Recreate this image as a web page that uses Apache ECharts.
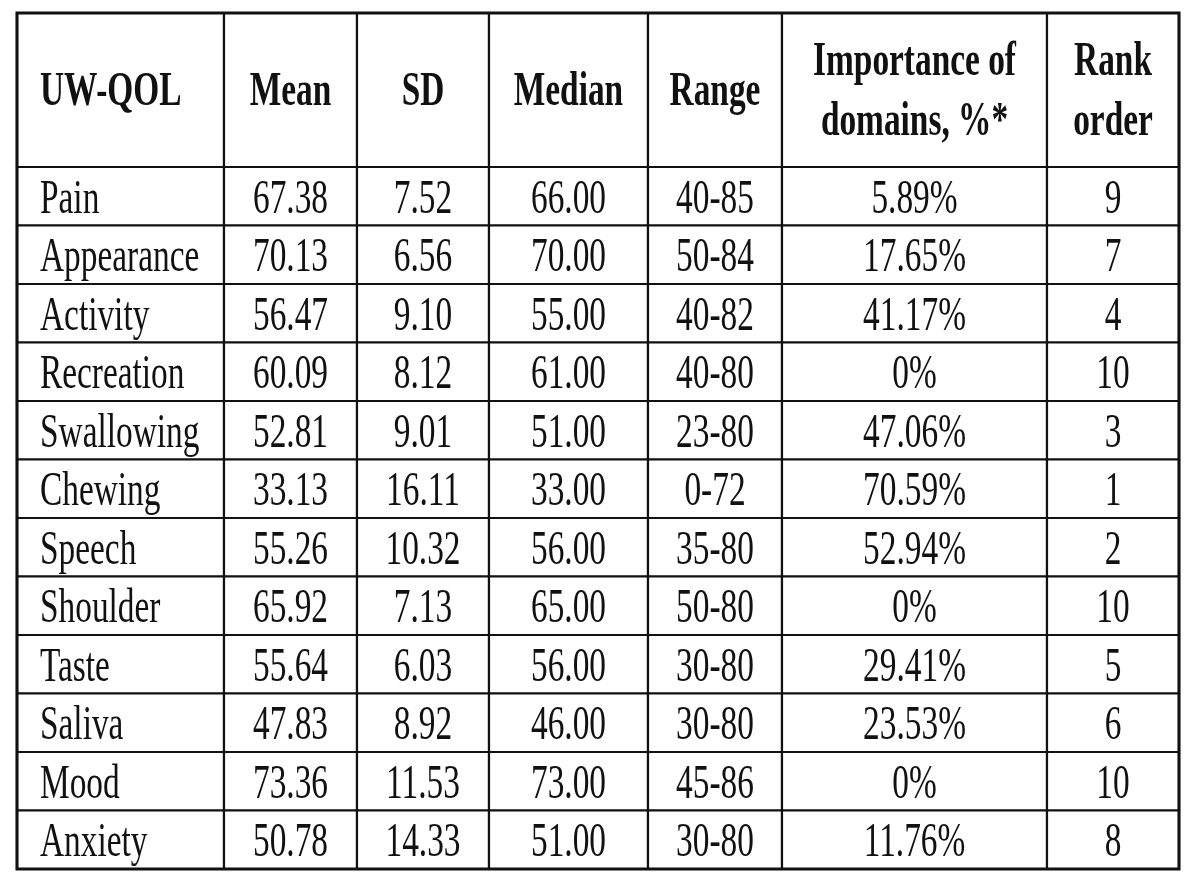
<!DOCTYPE html>
<html>
<head>
<meta charset="utf-8">
<script src="https://cdn.jsdelivr.net/npm/echarts@6/dist/echarts.min.js"></script>
<style>
html,body{margin:0;padding:0;background:#fff;}
#main{width:1200px;height:878px;}
</style>
</head>
<body>
<div id="main"></div>
<script>
// ---- data ----
var headers = ['UW-QOL', 'Mean', 'SD', 'Median', 'Range', 'Importance of\ndomains, %*', 'Rank\norder'];
var domains = ['Pain', 'Appearance', 'Activity', 'Recreation', 'Swallowing', 'Chewing', 'Speech', 'Shoulder', 'Taste', 'Saliva', 'Mood', 'Anxiety'];
var meanValues = [67.38, 70.13, 56.47, 60.09, 52.81, 33.13, 55.26, 65.92, 55.64, 47.83, 73.36, 50.78];
var sdValues = [7.52, 6.56, 9.10, 8.12, 9.01, 16.11, 10.32, 7.13, 6.03, 8.92, 11.53, 14.33];
var medianValues = [66.00, 70.00, 55.00, 61.00, 51.00, 33.00, 56.00, 65.00, 56.00, 46.00, 73.00, 51.00];
var rangeValues = ['40-85', '50-84', '40-82', '40-80', '23-80', '0-72', '35-80', '50-80', '30-80', '30-80', '45-86', '30-80'];
var importanceValues = [5.89, 17.65, 41.17, 0, 47.06, 70.59, 52.94, 0, 29.41, 23.53, 0, 11.76];
var rankValues = [9, 7, 4, 10, 3, 1, 2, 10, 5, 6, 10, 8];

// ---- layout (relative column widths / header row height in row units) ----
var colWeights = [207, 133, 132, 159, 134, 265, 132];
var headerRows = 154 / 58.5;

var colEdges = [0];
colWeights.forEach(function (w, i) { colEdges.push(colEdges[i] + w); });
var totalW = colEdges[colEdges.length - 1];
var totalH = headerRows + domains.length;

function fmtPct(v) { return v === 0 ? '0%' : v.toFixed(2) + '%'; }

var cells = [];
headers.forEach(function (h, c) { cells.push({ col: c, row: -1, text: h, header: true }); });
domains.forEach(function (d, r) {
  var rowTexts = [d, meanValues[r].toFixed(2), sdValues[r].toFixed(2), medianValues[r].toFixed(2),
    rangeValues[r], fmtPct(importanceValues[r]), String(rankValues[r])];
  rowTexts.forEach(function (t, c) { cells.push({ col: c, row: r, text: t, header: false }); });
});

function rowTop(r) { return r < 0 ? 0 : headerRows + r; }
function rowBottom(r) { return r < 0 ? headerRows : headerRows + r + 1; }

var FONT = '"Liberation Serif", "Times New Roman", serif';
var SX = 0.695;

var chart = echarts.init(document.getElementById('main'), null, { renderer: 'canvas' });
chart.setOption({
  backgroundColor: '#ffffff',
  animation: false,
  grid: { left: 17, top: 13, width: 1162, height: 856 },
  xAxis: { type: 'value', min: 0, max: totalW, show: false },
  yAxis: { type: 'value', min: 0, max: totalH, inverse: true, show: false },
  series: [{
    type: 'custom',
    coordinateSystem: 'cartesian2d',
    data: cells.map(function (c) { return [c.col, c.row]; }),
    renderItem: function (params, api) {
      var cell = cells[params.dataIndex];
      var c = api.value(0), r = api.value(1);
      var p0 = api.coord([colEdges[c], rowTop(r)]);
      var p1 = api.coord([colEdges[c + 1], rowBottom(r)]);
      var left = p0[0], top = p0[1], w = p1[0] - p0[0], h = p1[1] - p0[1];
      var isFirst = c === 0;
      var tx = isFirst ? left + 23 : left + w / 2;
      var ty = top + h / 2 + (cell.header ? 3 : 4);
      return {
        type: 'group',
        children: [
          {
            type: 'rect',
            shape: { x: left, y: top, width: w, height: h },
            style: { fill: '#ffffff', stroke: '#111111', lineWidth: 2.2 }
          },
          {
            type: 'text',
            x: tx, y: ty,
            scaleX: SX, scaleY: 1,
            style: {
              x: 0, y: 0,
              text: cell.text,
              fill: '#111111',
              font: (cell.header ? 'bold ' : '') + '48px ' + FONT,
              align: isFirst ? 'left' : 'center',
              verticalAlign: 'middle',
              lineHeight: 60
            }
          }
        ]
      };
    }
  }, {
    type: 'custom',
    coordinateSystem: 'cartesian2d',
    data: [[0, 0]],
    z: 5,
    renderItem: function (params, api) {
      var p0 = api.coord([0, 0]);
      var p1 = api.coord([totalW, totalH]);
      return {
        type: 'rect',
        shape: { x: p0[0], y: p0[1], width: p1[0] - p0[0], height: p1[1] - p0[1] },
        style: { fill: 'none', stroke: '#111111', lineWidth: 3 }
      };
    }
  }]
});
</script>
</body>
</html>
